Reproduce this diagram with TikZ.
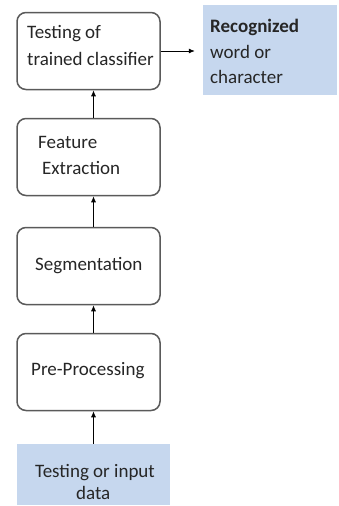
\documentclass[tikz,border=0pt]{standalone}
\usepackage{fontspec}
\setmainfont{Carlito}
\usetikzlibrary{arrows.meta}
\definecolor{boxline}{HTML}{5A5A5A}
\definecolor{paleblue}{HTML}{C6D7EE}
\definecolor{txt}{HTML}{262626}
\begin{document}
\begin{tikzpicture}[x=1pt,y=-1pt,
  stage/.style={draw=boxline,line width=1.5pt,rounded corners=9pt,fill=white,
    minimum width=143pt,minimum height=77pt,inner sep=0pt},
  datab/.style={fill=paleblue,inner sep=0pt},
  lbl/.style={anchor=base west,inner sep=0pt,text=txt,font=\fontsize{19}{23}\selectfont},
  flow/.style={draw=black,line width=0.8pt,-{Latex[length=6pt,width=5pt]}}]
\useasboundingbox (0,0) rectangle (339,506);
% boxes
\node[stage] (cls) at (88.5,51) {};
\node[stage] (fe) at (88.5,157) {};
\node[stage] (seg) at (88.5,266) {};
\node[stage] (pp) at (88.5,372) {};
\node[datab,minimum width=153pt,minimum height=61pt] (inp) at (93.5,474.5) {};
\node[datab,minimum width=134pt,minimum height=90pt] (out) at (270,50) {};
% texts
\node[lbl] (t1) at (27,38) {Testing of};
\node[lbl] (t2) at (27,65) {trained classifier};
\node[lbl] (t3) at (38,148) {Feature};
\node[lbl] (t4) at (42,174) {Extraction};
\node[lbl] (t5) at (35,270) {Segmentation};
\node[lbl] (t6) at (31,375) {Pre-Processing};
\node[lbl] (t7) at (35,477) {Testing or input};
\node[lbl] (t8) at (76,499) {data};
\node[lbl] (t9) at (210,32) {\bfseries Recognized};
\node[lbl] (t10) at (210,58) {word or};
\node[lbl] (t11) at (210,83) {character};
% connectors
\draw[flow] (inp.north) -- (pp.south -| inp.north);
\draw[flow] (pp.north -| inp.north) -- (seg.south -| inp.north);
\draw[flow] (seg.north -| inp.north) -- (fe.south -| inp.north);
\draw[flow] (fe.north -| inp.north) -- (cls.south -| inp.north);
\draw[flow,shorten >=8pt] (cls.east) -- (out.west |- cls.east);
\end{tikzpicture}
\end{document}
